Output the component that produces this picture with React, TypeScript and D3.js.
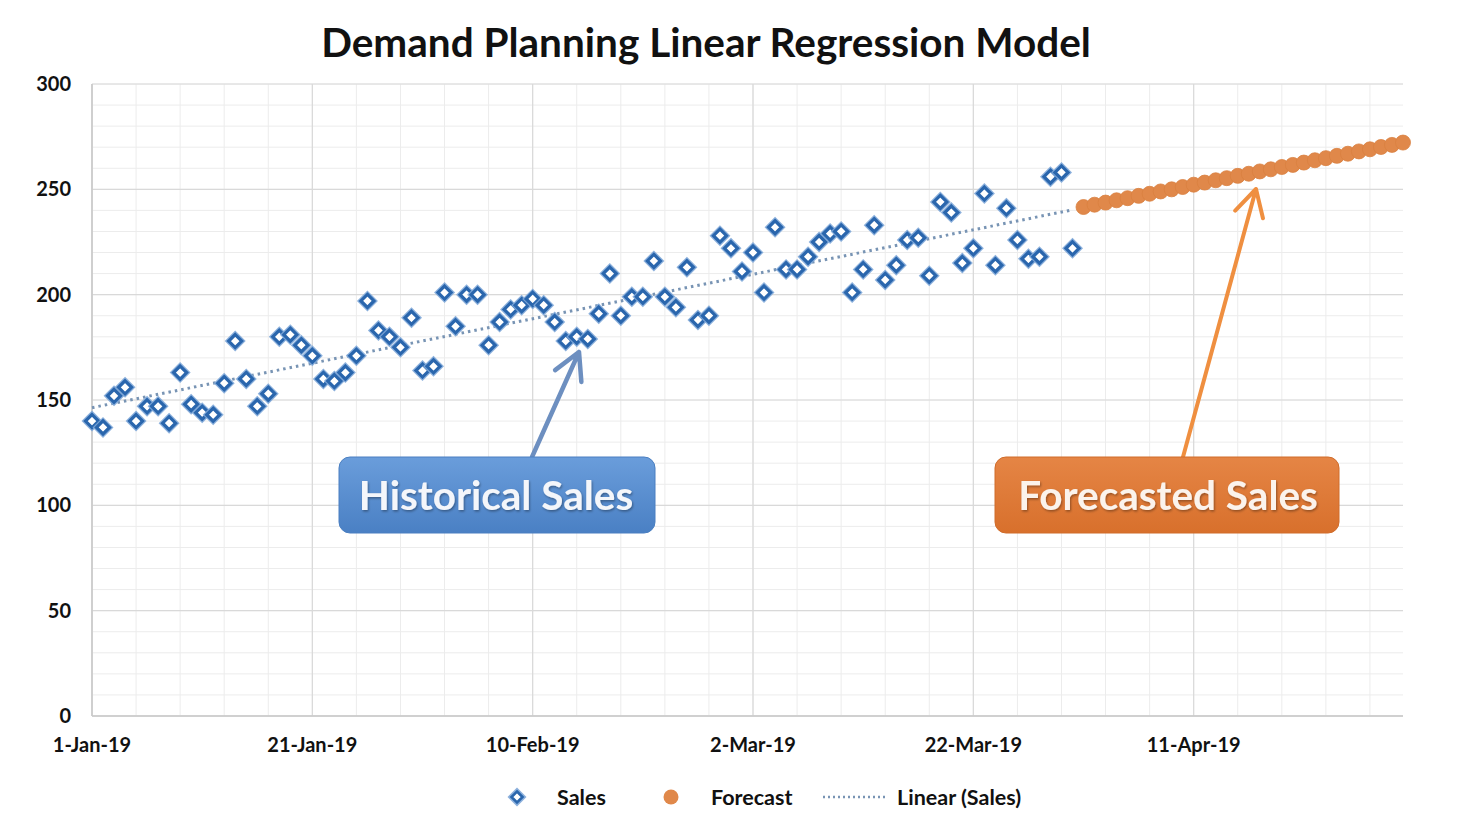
import React from 'react';
import * as d3 from 'd3';

const startDate = new Date(Date.UTC(2019, 0, 1));
const endDate = new Date(Date.UTC(2019, 3, 30));

// daily sales, 1-Jan-19 .. 31-Mar-19
const salesValues = [
  140, 137, 152, 156, 140, 147, 147, 139, 163, 148,
  144, 143, 158, 178, 160, 147, 153, 180, 181, 176,
  171, 160, 159, 163, 171, 197, 183, 180, 175, 189,
  164, 166, 201, 185, 200, 200, 176, 187, 193, 195,
  198, 195, 187, 178, 180, 179, 191, 210, 190, 199,
  199, 216, 199, 194, 213, 188, 190, 228, 222, 211,
  220, 201, 232, 212, 212, 218, 225, 229, 230, 201,
  212, 233, 207, 214, 226, 227, 209, 244, 239, 215,
  222, 248, 214, 241, 226, 217, 218, 256, 258, 222,
];

// daily forecast, 1-Apr-19 .. 30-Apr-19
const forecastValues = [
  241.6, 242.7, 243.7, 244.8, 245.8, 246.9, 247.9, 249.0, 250.0, 251.1,
  252.2, 253.2, 254.3, 255.3, 256.4, 257.4, 258.5, 259.5, 260.6, 261.6,
  262.7, 263.8, 264.8, 265.9, 266.9, 268.0, 269.0, 270.1, 271.1, 272.2,
];

const yTicks = [0, 50, 100, 150, 200, 250, 300];
const xTickLabels = ['1-Jan-19', '21-Jan-19', '10-Feb-19', '2-Mar-19', '22-Mar-19', '11-Apr-19'];

const W = 1458;
const H = 830;
const FONT = 'Lato, "Open Sans", sans-serif';

export default function App() {
  const x = d3.scaleUtc().domain([startDate, endDate]).range([92, 1403]);
  const y = d3.scaleLinear().domain([0, 300]).range([716, 84]);

  const sales = salesValues.map((v, i) => ({ date: d3.utcDay.offset(startDate, i), value: v }));
  const forecastStart = d3.utcDay.offset(startDate, salesValues.length);
  const forecast = forecastValues.map((v, i) => ({ date: d3.utcDay.offset(forecastStart, i), value: v }));

  // least squares trendline on the sales (like Excel's Linear trendline)
  const n = salesValues.length;
  const mx = d3.mean(salesValues, (_, i) => i) as number;
  const my = d3.mean(salesValues) as number;
  const slope = d3.sum(salesValues, (v, i) => (i - mx) * (v - my)) / d3.sum(salesValues, (_, i) => (i - mx) ** 2);
  const icpt = my - slope * mx;
  const trend = [0, n - 1].map(i => ({ date: d3.utcDay.offset(startDate, i), value: icpt + slope * i }));
  const trendLine = d3.line<{ date: Date; value: number }>().x(d => x(d.date)).y(d => y(d.value));

  const minorX = d3.utcDay.range(startDate, d3.utcDay.offset(endDate, 1)).filter(d => d3.utcDay.count(startDate, d) % 4 === 0);
  const majorX = xTickLabels.map((_, i) => d3.utcDay.offset(startDate, i * 20));
  const minorY = d3.range(0, 301, 10);

  const diamond = (r: number) => `M0,${-r}L${r},0L0,${r}L${-r},0Z`;

  const arrow = (x1: number, y1: number, x2: number, y2: number) => {
    const a = Math.atan2(y2 - y1, x2 - x1);
    const L = 30, s = 0.5;
    const p1 = [x2 - L * Math.cos(a - s), y2 - L * Math.sin(a - s)];
    const p2 = [x2 - L * Math.cos(a + s), y2 - L * Math.sin(a + s)];
    return `M${x1},${y1}L${x2},${y2}M${p1[0]},${p1[1]}L${x2},${y2}L${p2[0]},${p2[1]}`;
  };

  return (
    <svg width={W} height={H} style={{ position: 'absolute', left: 0, top: 0, background: '#fff' }} fontFamily={FONT}>
      <defs>
        <linearGradient id="blueBox" x1="0" y1="0" x2="0" y2="1">
          <stop offset="0" stopColor="#6a9ddb" />
          <stop offset="1" stopColor="#4a80c4" />
        </linearGradient>
        <linearGradient id="orangeBox" x1="0" y1="0" x2="0" y2="1">
          <stop offset="0" stopColor="#e58545" />
          <stop offset="1" stopColor="#d8702c" />
        </linearGradient>
        <filter id="txtShadow" x="-10%" y="-20%" width="120%" height="140%">
          <feDropShadow dx="1" dy="1.5" stdDeviation="1.2" floodColor="#000" floodOpacity="0.35" />
        </filter>
      </defs>

      <text x={706} y={57} textAnchor="middle" fontSize={40.5} fontWeight={700} fill="#111">
        Demand Planning Linear Regression Model
      </text>

      {/* grid */}
      <g>
        {minorY.map(v => (
          <line key={'my' + v} x1={92} x2={1403} y1={y(v)} y2={y(v)} stroke="#ececec" strokeWidth={1} />
        ))}
        {minorX.map(d => (
          <line key={'mx' + d.getTime()} x1={x(d)} x2={x(d)} y1={84} y2={716} stroke="#ececec" strokeWidth={1} />
        ))}
        {yTicks.map(v => (
          <line key={'Y' + v} x1={92} x2={1403} y1={y(v)} y2={y(v)} stroke="#d9d9d9" strokeWidth={1.2} />
        ))}
        {majorX.map(d => (
          <line key={'X' + d.getTime()} x1={x(d)} x2={x(d)} y1={84} y2={716} stroke="#d9d9d9" strokeWidth={1.2} />
        ))}
        <line x1={92} x2={92} y1={84} y2={716} stroke="#c8c8c8" strokeWidth={1.5} />
        <line x1={92} x2={1403} y1={716} y2={716} stroke="#c8c8c8" strokeWidth={1.5} />
      </g>

      {/* axes labels */}
      {yTicks.map(v => (
        <text key={'yt' + v} x={71} y={y(v)} dy="0.35em" textAnchor="end" fontSize={20} fontWeight={700} fill="#111">
          {v}
        </text>
      ))}
      {majorX.map((d, i) => (
        <text key={'xt' + i} x={x(d)} y={752} textAnchor="middle" fontSize={20} fontWeight={700} fill="#111">
          {xTickLabels[i]}
        </text>
      ))}

      {/* trendline */}
      <path d={trendLine(trend) ?? ''} fill="none" stroke="#7894b4" strokeWidth={3} strokeDasharray="2.5 4" />

      {/* forecast */}
      {forecast.map((d, i) => (
        <circle key={'f' + i} cx={x(d.date)} cy={y(d.value)} r={7.5} fill="#e0884a" stroke="#d98040" strokeWidth={0.8} />
      ))}

      {/* sales */}
      {sales.map((d, i) => (
        <g key={'s' + i} transform={`translate(${x(d.date)},${y(d.value)})`}>
          <path d={diamond(10.5)} fill="#7ea7d8" opacity={0.9} />
          <path d={diamond(6.5)} fill="#fff" stroke="#2a66ad" strokeWidth={3.2} />
        </g>
      ))}

      {/* annotations */}
      <path d={arrow(532, 457, 579, 352)} fill="none" stroke="#6d8fc0" strokeWidth={4.5} strokeLinecap="round" strokeLinejoin="round" />
      <rect x={339} y={457} width={316} height={76} rx={11} fill="url(#blueBox)" stroke="#4a7fc1" strokeWidth={1} />
      <text x={496} y={510} textAnchor="middle" fontSize={40.5} fontWeight={700} fill="#f4f6fa" filter="url(#txtShadow)">
        Historical Sales
      </text>

      <path d={arrow(1183, 457, 1256, 189)} fill="none" stroke="#ef8f40" strokeWidth={4} strokeLinecap="round" strokeLinejoin="round" />
      <rect x={995} y={457} width={344} height={76} rx={11} fill="url(#orangeBox)" stroke="#d06c2a" strokeWidth={1} />
      <text x={1168} y={510} textAnchor="middle" fontSize={40.5} fontWeight={700} fill="#fbf3ec" filter="url(#txtShadow)">
        Forecasted Sales
      </text>

      {/* legend */}
      <g fontSize={21.5} fontWeight={700} fill="#111">
        <g transform="translate(517,797)">
          <path d={diamond(9.5)} fill="#7ea7d8" opacity={0.9} />
          <path d={diamond(5.5)} fill="#fff" stroke="#2a66ad" strokeWidth={2.6} />
        </g>
        <text x={557} y={797} dy="0.35em">Sales</text>
        <circle cx={671} cy={797} r={7.5} fill="#e0884a" />
        <text x={711} y={797} dy="0.35em">Forecast</text>
        <line x1={823} x2={885} y1={797} y2={797} stroke="#7894b4" strokeWidth={2.5} strokeDasharray="2 3" />
        <text x={897} y={797} dy="0.35em">Linear (Sales)</text>
      </g>
    </svg>
  );
}
